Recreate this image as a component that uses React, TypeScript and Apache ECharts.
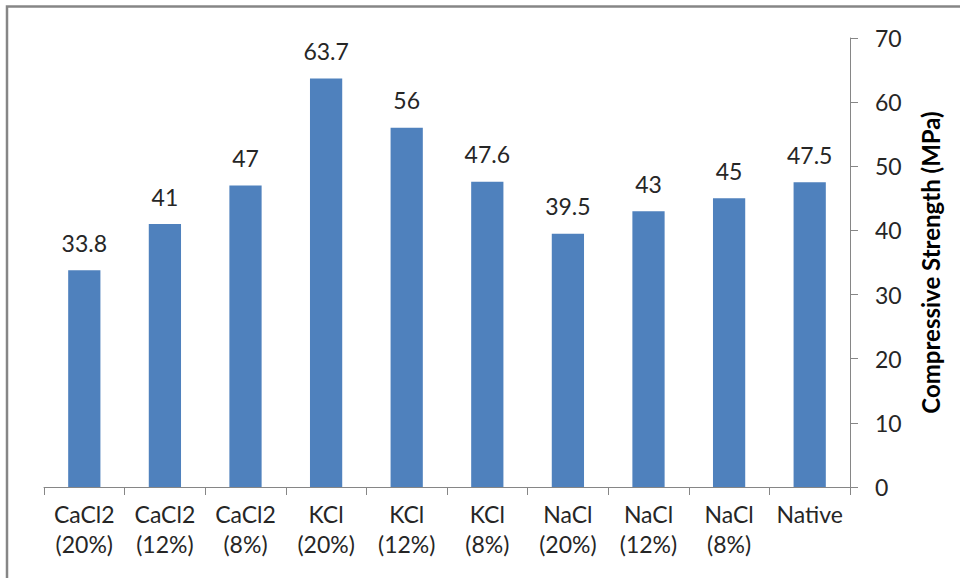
import React, { useEffect, useRef } from "react";
import * as echarts from "echarts";

const categories = [
  "CaCl2\n(20%)",
  "CaCl2\n(12%)",
  "CaCl2\n(8%)",
  "KCl\n(20%)",
  "KCl\n(12%)",
  "KCl\n(8%)",
  "NaCl\n(20%)",
  "NaCl\n(12%)",
  "NaCl\n(8%)",
  "Native",
];
const strength = [33.8, 41, 47, 63.7, 56, 47.6, 39.5, 43, 45, 47.5];
const axisTitle = "Compressive Strength (MPa)";

const FONT = "Lato, 'Open Sans', sans-serif";
const TEXT = "#262626";
const AXIS = "#868686";

export default function App() {
  const ref = useRef<HTMLDivElement>(null);

  useEffect(() => {
    document.body.style.margin = "0";
    const chart = echarts.init(ref.current!, null, { renderer: "svg" });
    chart.setOption({
      animation: false,
      backgroundColor: "#ffffff",
      graphic: [
        {
          type: "rect",
          shape: { x: 7, y: 6.5, width: 1100, height: 1000 },
          style: { fill: "none", stroke: "#868686", lineWidth: 2.5 },
          silent: true,
        },
      ],
      grid: { left: 44, right: 110, top: 38, bottom: 91 },
      xAxis: {
        type: "category",
        data: categories,
        axisLine: { show: true, lineStyle: { color: AXIS, width: 1 } },
        axisTick: { show: true, length: 8, lineStyle: { color: AXIS } },
        axisLabel: {
          color: TEXT,
          fontFamily: FONT,
          fontSize: 23,
          lineHeight: 30,
          margin: 12,
          interval: 0,
        },
      },
      yAxis: {
        type: "value",
        position: "right",
        min: 0,
        max: 70,
        interval: 10,
        name: axisTitle,
        nameLocation: "middle",
        nameRotate: 90,
        nameGap: 68,
        nameTextStyle: {
          color: "#000000",
          fontFamily: FONT,
          fontSize: 24,
          fontWeight: "bold",
        },
        splitLine: { show: false },
        axisLine: { show: true, lineStyle: { color: AXIS, width: 1 } },
        axisTick: { show: true, inside: false, length: 8, lineStyle: { color: AXIS } },
        axisLabel: {
          color: TEXT,
          fontFamily: FONT,
          fontSize: 23,
          margin: 25,
        },
      },
      series: [
        {
          type: "bar",
          data: strength,
          barCategoryGap: "60%",
          itemStyle: { color: "#4F81BD" },
          label: {
            show: true,
            position: "top",
            distance: 16,
            color: TEXT,
            fontFamily: FONT,
            fontSize: 23,
          },
        },
      ],
    });
    return () => chart.dispose();
  }, []);

  return <div ref={ref} style={{ width: 960, height: 578 }} />;
}
